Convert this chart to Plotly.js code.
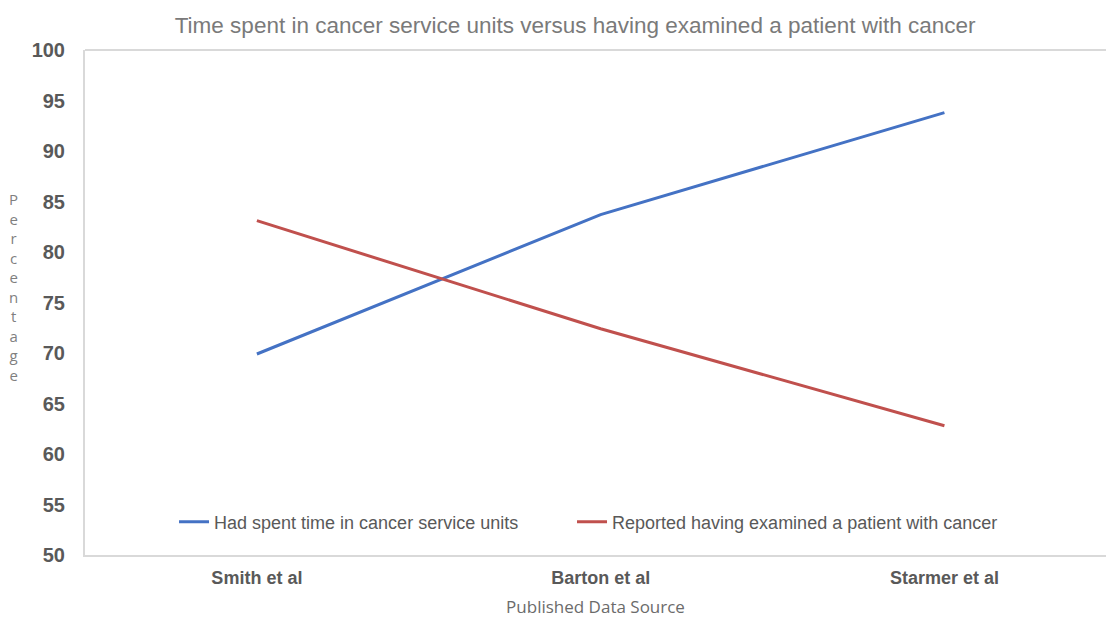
<!DOCTYPE html>
<html>
<head>
<meta charset="utf-8">
<script src="https://cdn.plot.ly/plotly-3.0.1.min.js"></script>
<style>
  html, body { margin: 0; padding: 0; background: #fff; overflow: hidden; }
  #chart { width: 1106px; height: 618px; }
</style>
</head>
<body>
<div id="chart"></div>
<script>
// Published sources compared
const sources = ['Smith et al', 'Barton et al', 'Starmer et al'];

// Percentage who had spent time in cancer service units
const spentTime = [69.9, 83.7, 93.8];

// Percentage who reported having examined a patient with cancer
const examined = [83.1, 72.4, 62.8];

const yTicks = [50, 55, 60, 65, 70, 75, 80, 85, 90, 95, 100];

const traces = [
  {
    x: sources, y: spentTime, type: 'scatter', mode: 'lines',
    name: 'Had spent time in cancer service units',
    line: { color: '#4472C4', width: 3 },
    legend: 'legend'
  },
  {
    x: sources, y: examined, type: 'scatter', mode: 'lines',
    name: 'Reported having examined a patient with cancer',
    line: { color: '#C0504D', width: 3 },
    legend: 'legend2'
  }
];

const gray = '#595959';
const frame = '#d9d9d9';

const legendStyle = (x) => ({
  orientation: 'h', x: x, xanchor: 'left', y: 0.065, yanchor: 'middle',
  bgcolor: 'rgba(0,0,0,0)', itemwidth: 30,
  font: { family: 'Liberation Sans, Arial, sans-serif', size: 18, color: gray }
});

const layout = {
  width: 1106, height: 618,
  margin: { l: 85, r: 0, t: 50, b: 63 },
  paper_bgcolor: '#ffffff', plot_bgcolor: '#ffffff',
  font: { family: 'Liberation Sans, Arial, sans-serif', color: gray },
  title: {
    text: 'Time spent in cancer service units versus having examined a patient with cancer',
    font: { family: 'Liberation Sans, Arial, sans-serif', size: 22.5, color: '#7a7a7a' },
    x: 0.52, xref: 'container', xanchor: 'center', y: 0.96, yanchor: 'middle'
  },
  xaxis: {
    type: 'category', range: [-0.5, 2.47],
    showgrid: false, zeroline: false,
    showline: true, linecolor: frame, linewidth: 2,
    ticks: '', ticklabelstandoff: 5,
    tickfont: { family: 'Liberation Sans, Arial, sans-serif', size: 18, color: gray, weight: 'bold' },
    title: {
      text: 'Published Data Source', standoff: 19,
      font: { family: 'Open Sans, Noto Sans, sans-serif', size: 17, color: '#6b6b6b' }
    }
  },
  yaxis: {
    range: [50, 100], tickvals: yTicks,
    showgrid: false, zeroline: false,
    showline: true, linecolor: frame, linewidth: 2,
    ticks: '', ticklabelstandoff: 14,
    tickfont: { family: 'Liberation Sans, Arial, sans-serif', size: 20, color: gray, weight: 'bold' }
  },
  shapes: [{
    // top edge of the plot frame
    type: 'line', xref: 'paper', yref: 'paper', x0: 0, x1: 1, y0: 1, y1: 1,
    line: { color: frame, width: 2 }
  }],
  legend: legendStyle(0.0872),
  legend2: legendStyle(0.477),
  annotations: [{
    text: 'P<br>e<br>r<br>c<br>e<br>n<br>t<br>a<br>g<br>e',
    xref: 'paper', yref: 'paper', x: -0.07, y: 0.53,
    xanchor: 'center', yanchor: 'middle', showarrow: false, align: 'center',
    font: { family: 'Open Sans, Noto Sans, sans-serif', size: 15, color: '#7f7f7f' }
  }],
  showlegend: true
};

Plotly.newPlot('chart', traces, layout, { displayModeBar: false, staticPlot: true });
</script>
</body>
</html>
